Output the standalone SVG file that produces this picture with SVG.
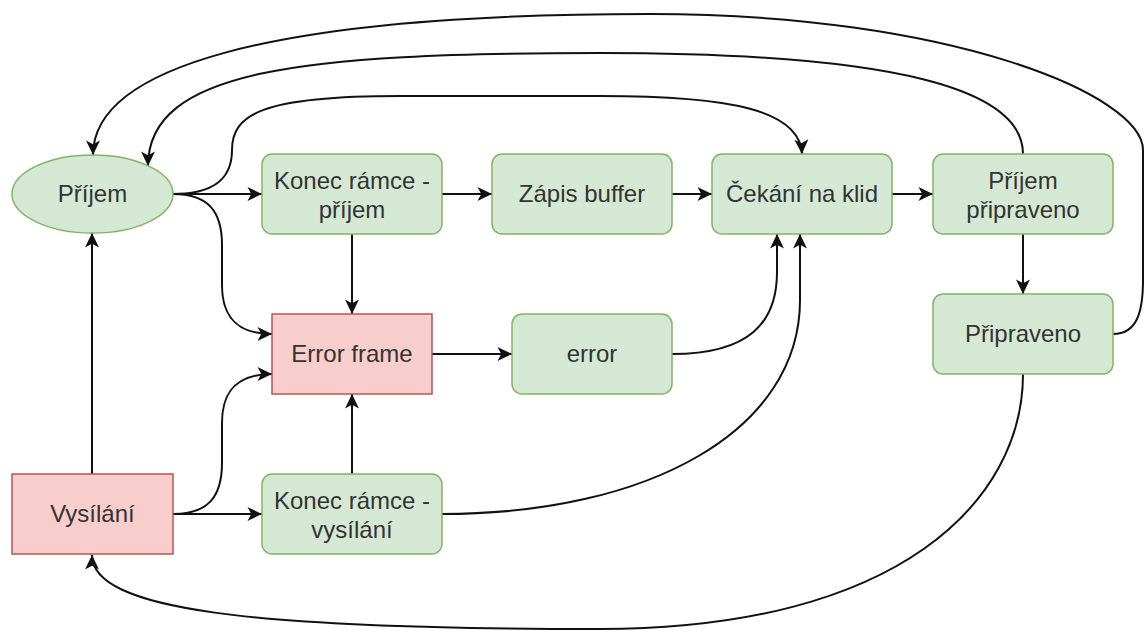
<svg xmlns="http://www.w3.org/2000/svg" width="1145" height="631" viewBox="0 0 1145 631">
  <style>
    .ok { fill: #d5e8d4; stroke: #82b366; stroke-width: 1.5; }
    .bad { fill: #f8cecc; stroke: #b85450; stroke-width: 1.5; }
    .lbl { font-family: "Liberation Sans", Arial, sans-serif; font-size: 24px; fill: #333333; text-anchor: middle; }
    .edge { fill: none; stroke: #111; stroke-width: 2; }
  </style>
  <defs>
    <marker id="arrow" markerUnits="userSpaceOnUse" markerWidth="17" markerHeight="17" viewBox="0 0 17 17" refX="16" refY="8.5" orient="auto">
      <path d="M1.5,1.5 L16,8.5 L1.5,15.5 L5.2,8.5 Z" fill="#111"/>
    </marker>
  </defs>
  <rect width="1145" height="631" fill="#ffffff"/>

  <!-- connectors -->
  <g id="connectors" class="edge" marker-end="url(#arrow)">
    <path d="M173,194 L262,194"/>
    <path d="M173,194 C207,194 222,210 222,245 L222,285 C222,318 238,334 272,334"/>
    <path d="M173,194 C205,194 232,185 232,150 C232,115 260,96 400,96 L600,96 C730,96 800,110 802,154"/>
    <path d="M352,234 L352,314"/>
    <path d="M442,194 L492,194"/>
    <path d="M672,194 L712,194"/>
    <path d="M892,194 L933,194"/>
    <path d="M1023,234 L1023,294"/>
    <path d="M432,354 L512,354"/>
    <path d="M672,354 C750,354 777,322 777,272 L777,234"/>
    <path d="M442,514 C650,514 800,430 800,300 L800,234"/>
    <path d="M352,474 L352,394"/>
    <path d="M173,514 L262,514"/>
    <path d="M173,514 C207,514 222,498 222,463 L222,423 C222,390 238,374 272,374"/>
    <path d="M92,474 L92,233"/>
    <path d="M1023,154 C1023,90 900,53 600,53 C300,53 148,70 148,166"/>
    <path d="M1113,334 C1137,334 1143,312 1143,280 L1143,150 C1143,95 950,14 650,14 C260,14 93,70 93,155"/>
    <path d="M1023,374 C1023,500 900,629 600,629 C250,629 92,610 92,555"/>
  </g>

  <!-- nodes -->
  <g id="prijem">
    <ellipse class="ok" cx="92.5" cy="194" rx="80.5" ry="39"/>
    <text class="lbl" x="92.5" y="202">Příjem</text>
  </g>
  <g id="konec-prijem">
    <rect class="ok" x="262" y="154" width="180" height="80" rx="10"/>
    <text class="lbl" x="352" y="189">Konec rámce -</text>
    <text class="lbl" x="352" y="218">příjem</text>
  </g>
  <g id="zapis-buffer">
    <rect class="ok" x="492" y="154" width="180" height="80" rx="10"/>
    <text class="lbl" x="582" y="202">Zápis buffer</text>
  </g>
  <g id="cekani">
    <rect class="ok" x="712" y="154" width="180" height="80" rx="10"/>
    <text class="lbl" x="802" y="202">Čekání na klid</text>
  </g>
  <g id="prijem-pripraveno">
    <rect class="ok" x="933" y="154" width="180" height="80" rx="10"/>
    <text class="lbl" x="1023" y="189">Příjem</text>
    <text class="lbl" x="1023" y="218">připraveno</text>
  </g>
  <g id="pripraveno">
    <rect class="ok" x="933" y="294" width="180" height="80" rx="10"/>
    <text class="lbl" x="1023" y="342">Připraveno</text>
  </g>
  <g id="error-frame">
    <rect class="bad" x="272" y="314" width="160" height="80"/>
    <text class="lbl" x="352" y="362">Error frame</text>
  </g>
  <g id="error">
    <rect class="ok" x="512" y="314" width="160" height="80" rx="10"/>
    <text class="lbl" x="592" y="362">error</text>
  </g>
  <g id="vysilani">
    <rect class="bad" x="12" y="474" width="161" height="80"/>
    <text class="lbl" x="92.5" y="522">Vysílání</text>
  </g>
  <g id="konec-vysilani">
    <rect class="ok" x="262" y="474" width="180" height="80" rx="10"/>
    <text class="lbl" x="352" y="509">Konec rámce -</text>
    <text class="lbl" x="352" y="538">vysílání</text>
  </g>
</svg>
